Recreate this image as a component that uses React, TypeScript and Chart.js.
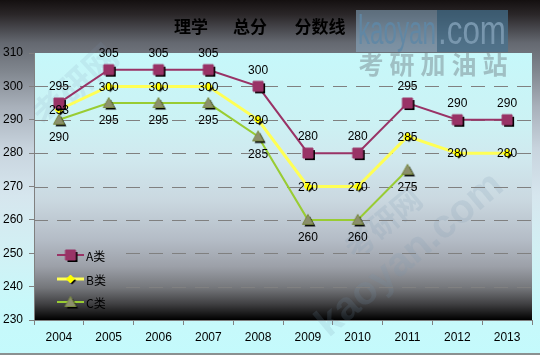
import React, { useEffect, useRef } from "react";
import { Chart, registerables } from "chart.js";

Chart.register(...registerables);

const years = ["2004", "2005", "2006", "2007", "2008", "2009", "2010", "2011", "2012", "2013"];
const seriesA = [295, 305, 305, 305, 300, 280, 280, 295, 290, 290];
const seriesB = [293, 300, 300, 300, 290, 270, 270, 285, 280, 280];
const seriesC = [290, 295, 295, 295, 285, 260, 260, 275, null, null];
const seriesNames = ["A类", "B类", "C类"];
const yMin = 230;
const yMax = 310;
const yStep = 10;
const titleParts = ["理学", "总分", "分数线"];

const colA = "#993366";
const colB = "#ffff55";
const colC = "#99cc33";

function makeMarker(kind: string, fill: string, stroke: string): HTMLCanvasElement {
  const c = document.createElement("canvas");
  c.width = 18;
  c.height = 18;
  const g = c.getContext("2d")!;
  const draw = (dx: number, color: string, strokeColor: string | null) => {
    g.beginPath();
    if (kind === "square") {
      g.rect(4 + dx, 4 + dx, 10, 10);
    } else if (kind === "diamond") {
      g.moveTo(9 + dx, 5 + dx);
      g.lineTo(13 + dx, 9 + dx);
      g.lineTo(9 + dx, 13 + dx);
      g.lineTo(5 + dx, 9 + dx);
      g.closePath();
    } else {
      g.moveTo(9 + dx, 3.5 + dx);
      g.lineTo(14.5 + dx, 13.5 + dx);
      g.lineTo(3.5 + dx, 13.5 + dx);
      g.closePath();
    }
    g.fillStyle = color;
    g.fill();
    if (strokeColor) {
      g.strokeStyle = strokeColor;
      g.lineWidth = 1;
      g.stroke();
    }
  };
  draw(kind === "diamond" ? 1.5 : 2, "#000", null);
  draw(0, fill, stroke);
  return c;
}

export default function App() {
  const ref = useRef<HTMLCanvasElement | null>(null);

  useEffect(() => {
    if (!ref.current) return;
    const mA = makeMarker("square", colA, colA);
    const mB = makeMarker("diamond", "#ffff00", "#ffff00");
    const mC = makeMarker("triangle", "#8c8f6c", "#7a8a40");
    const markers = [mA, mB, mC];
    const lineCols = [colA, colB, colC];

    const plotGradient = (ctx: CanvasRenderingContext2D, top: number, bottom: number) => {
      const g = ctx.createLinearGradient(0, top, 0, bottom);
      g.addColorStop(0, "#c6f8fa");
      g.addColorStop(0.25, "#ccf2f4");
      g.addColorStop(0.4, "#d0e8ee");
      g.addColorStop(0.55, "#cad8e0");
      g.addColorStop(0.7, "#b4bcc6");
      g.addColorStop(0.8, "#9ca0a8");
      g.addColorStop(0.88, "#74767a");
      g.addColorStop(0.94, "#404042");
      g.addColorStop(1, "#000000");
      return g;
    };

    const bgPlugin = {
      id: "bg",
      beforeDraw(chart: any) {
        const { ctx, width, height, chartArea } = chart;
        ctx.save();
        const g = ctx.createLinearGradient(0, 0, 0, height);
        g.addColorStop(0, "#141010");
        g.addColorStop(0.04, "#2a2628");
        g.addColorStop(0.12, "#646870");
        g.addColorStop(0.2, "#80868e");
        g.addColorStop(0.3, "#a8b0ba");
        g.addColorStop(0.42, "#c8d4de");
        g.addColorStop(0.55, "#d6e6ee");
        g.addColorStop(0.7, "#d2f0f4");
        g.addColorStop(0.85, "#c8f8fa");
        g.addColorStop(1, "#c4fafc");
        ctx.fillStyle = g;
        ctx.fillRect(0, 0, width, height);
        ctx.fillStyle = plotGradient(ctx, chartArea.top, chartArea.bottom);
        ctx.fillRect(chartArea.left, chartArea.top, chartArea.right - chartArea.left, chartArea.bottom - chartArea.top);
        ctx.strokeStyle = "#8a9090";
        ctx.lineWidth = 2;
        ctx.beginPath();
        ctx.moveTo(0, height - 1);
        ctx.lineTo(width, height - 1);
        ctx.stroke();
        ctx.restore();
      },
      beforeDatasetsDraw(chart: any) {
        const { ctx, chartArea } = chart;
        const ys = chart.scales.y;
        ctx.save();
        // faint diagonal watermarks
        ctx.save();
        ctx.translate(75, 85);
        ctx.rotate(-0.75);
        ctx.font = "bold 34px 'Noto Sans CJK SC', sans-serif";
        ctx.fillStyle = "rgba(120,150,175,0.13)";
        ctx.textAlign = "center";
        ctx.textBaseline = "middle";
        ctx.fillText("考研网", 0, 0);
        ctx.restore();
        ctx.save();
        ctx.translate(410, 255);
        ctx.rotate(-0.7);
        ctx.font = "bold 40px 'Liberation Sans', Arial, sans-serif";
        ctx.fillStyle = "rgba(120,150,175,0.16)";
        ctx.textAlign = "center";
        ctx.textBaseline = "middle";
        ctx.fillText("kaoyan.com", 0, 0);
        ctx.font = "bold 30px 'Noto Sans CJK SC', sans-serif";
        ctx.fillText("考研网", 0, -42);
        ctx.restore();
        // dashed grid lines
        ctx.strokeStyle = "#808080";
        ctx.lineWidth = 1;
        ctx.setLineDash([14, 9]);
        for (let v = yMin + yStep; v < yMax; v += yStep) {
          const y = Math.round(ys.getPixelForValue(v)) + 0.5;
          ctx.beginPath();
          ctx.moveTo(chartArea.left, y);
          ctx.lineTo(chartArea.right, y);
          ctx.stroke();
        }
        ctx.setLineDash([]);
        ctx.fillStyle = plotGradient(ctx, chartArea.top, chartArea.bottom);
        ctx.fillRect(chartArea.left + 1, 240, 126 - chartArea.left - 1, chartArea.bottom - 241);
        ctx.restore();
      },
      afterDatasetsDraw(chart: any) {
        const { ctx } = chart;
        ctx.save();
        ctx.font = "12px 'Liberation Sans', Arial, sans-serif";
        ctx.fillStyle = "#000";
        ctx.textAlign = "center";
        ctx.textBaseline = "middle";
        const offsets = [-17, 0, 17];
        [2, 0, 1].forEach((di) => {
          const meta = chart.getDatasetMeta(di);
          const data = chart.data.datasets[di].data;
          meta.data.forEach((pt: any, i: number) => {
            const v = data[i];
            if (v === null || v === undefined) return;
            ctx.fillText(String(v), pt.x, pt.y + offsets[di] + 1);
          });
        });
        // legend
        const rows = [255, 279, 302];
        seriesNames.forEach((name, i) => {
          const y = rows[i];
          ctx.strokeStyle = lineCols[i];
          ctx.lineWidth = i === 1 ? 3 : 2;
          ctx.beginPath();
          ctx.moveTo(57, y);
          ctx.lineTo(84, y);
          ctx.stroke();
          const m = markers[i];
          ctx.drawImage(m, 70.5 - 9, y - 9);
          ctx.fillStyle = "#000";
          ctx.textAlign = "left";
          ctx.font = "12px 'Noto Sans CJK SC', sans-serif";
          ctx.fillText(name, 86, y + 1);
        });
        // title
        ctx.textAlign = "center";
        ctx.fillStyle = "#000";
        ctx.font = "bold 17px 'Noto Sans CJK SC', sans-serif";
        const tx = [191, 250, 320];
        titleParts.forEach((t, i) => ctx.fillText(t, tx[i], 27));
        // watermark box
        ctx.fillStyle = "rgba(140,175,200,0.55)";
        ctx.fillRect(356, 10, 81, 42);
        ctx.fillStyle = "rgba(70,115,145,0.7)";
        ctx.fillRect(437, 10, 71, 42);
        ctx.font = "40px 'Liberation Sans', Arial, sans-serif";
        ctx.textBaseline = "alphabetic";
        ctx.textAlign = "left";
        const drawFit = (txt: string, x: number, w: number, color: string) => {
          const mw = ctx.measureText(txt).width;
          ctx.save();
          ctx.translate(x, 44);
          ctx.scale(w / mw, 1);
          ctx.fillStyle = color;
          ctx.fillText(txt, 0, 0);
          ctx.restore();
        };
        drawFit("kaoyan", 358, 78, "rgba(95,135,165,0.9)");
        drawFit(".com", 438, 68, "rgba(125,155,178,0.9)");
        ctx.textAlign = "center";
        ctx.textBaseline = "middle";
        ctx.font = "bold 25px 'Noto Sans CJK SC', sans-serif";
        ctx.fillStyle = "rgba(110,125,130,0.45)";
        const wx = [371, 402, 433, 464, 495];
        "考研加油站".split("").forEach((ch, i) => ctx.fillText(ch, wx[i], 64));
        ctx.restore();
      },
    };

    const chart = new Chart(ref.current, {
      type: "line",
      data: {
        labels: years,
        datasets: [
          {
            label: seriesNames[0],
            data: seriesA,
            borderColor: colA,
            borderWidth: 2,
            pointStyle: mA as any,
            pointRadius: 5,
            tension: 0,
          },
          {
            label: seriesNames[1],
            data: seriesB,
            borderColor: colB,
            borderWidth: 3,
            pointStyle: mB as any,
            pointRadius: 5,
            tension: 0,
          },
          {
            label: seriesNames[2],
            data: seriesC,
            borderColor: colC,
            borderWidth: 2,
            pointStyle: mC as any,
            pointRadius: 5,
            tension: 0,
            spanGaps: false,
          },
        ],
      },
      options: {
        responsive: false,
        animation: false,
        layout: { padding: { top: 53, left: 3, right: 7, bottom: 0 } },
        plugins: {
          legend: { display: false },
          title: { display: false },
          tooltip: { enabled: false },
        },
        scales: {
          x: {
            offset: true,
            afterFit: (s: any) => {
              s.height = 35;
            },
            grid: {
              offset: true,
              drawOnChartArea: false,
              tickLength: 5,
              color: "#808080",
            },
            border: { color: "#808080", width: 1 },
            ticks: {
              color: "#000",
              padding: 5,
              font: { family: "'Liberation Sans', Arial, sans-serif", size: 12 },
              maxRotation: 0,
            },
          },
          y: {
            min: yMin,
            max: yMax,
            afterFit: (s: any) => {
              s.width = 31;
            },
            grid: {
              drawOnChartArea: false,
              color: "#808080",
              tickLength: 5,
            },
            border: { color: "#808080", width: 1 },
            ticks: {
              stepSize: yStep,
              color: "#000",
              crossAlign: "far",
              padding: 4,
              font: { family: "'Liberation Sans', Arial, sans-serif", size: 12 },
            },
          },
        },
      } as any,
      plugins: [bgPlugin],
    });
    return () => chart.destroy();
  }, []);

  return (
    <div style={{ position: "fixed", left: 0, top: 0, width: 540, height: 355 }}>
      <canvas ref={ref} width={540} height={355} style={{ display: "block" }} />
    </div>
  );
}
